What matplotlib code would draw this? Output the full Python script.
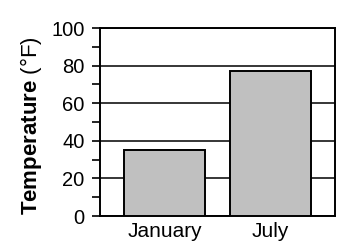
import numpy as np
import matplotlib.pyplot as plt

plt.rcParams['font.family'] = ['Liberation Sans', 'DejaVu Sans']
plt.rcParams['mathtext.fontset'] = 'custom'
plt.rcParams['mathtext.rm'] = 'Liberation Sans'
plt.rcParams['mathtext.bf'] = 'Liberation Sans:bold'

months = ['January', 'July']
temps = [35, 77]
yticks = [0, 20, 40, 60, 80, 100]

fig = plt.figure(figsize=(3.6, 2.48), dpi=100)
ax = fig.add_axes([0.2778, 0.129, 0.6528, 0.758])

x = np.arange(len(months))
ax.bar(x, temps, width=0.764, color='#c0c0c0', edgecolor='black', linewidth=1.4, zorder=3)

ax.set_xlim(-0.61, 1.61)
ax.set_ylim(0, 100)
ax.set_yticks(yticks)
ax.set_yticks(np.arange(10, 100, 20), minor=True)
ax.set_xticks(x)
ax.set_xticklabels(months, fontsize=15)
ax.tick_params(axis='x', length=0, pad=4)
ax.tick_params(axis='y', which='both', length=6, width=1.2, labelsize=14.5, pad=5)
ax.grid(True, axis='y', which='major', color='black', linewidth=1.1, zorder=0)
ax.set_axisbelow(True)
for s in ax.spines.values():
    s.set_linewidth(1.4)

ax.set_ylabel(r'$\mathbf{Temperature}$ (°F)', fontsize=16)
ax.yaxis.set_label_coords(-0.237, 0.48)

fig.savefig('out.png', dpi=100)
